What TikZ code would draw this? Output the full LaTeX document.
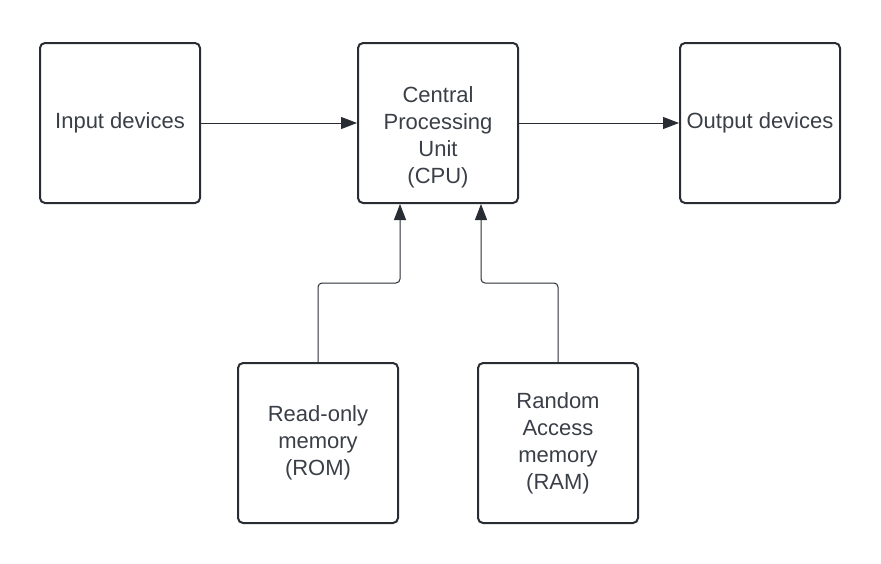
\documentclass[tikz,border=0pt]{standalone}
\usepackage{fontspec}
\setmainfont{Liberation Sans}
\usetikzlibrary{arrows.meta}
\definecolor{boxline}{HTML}{282C33}
\definecolor{boxtext}{HTML}{3A3F47}
\tikzset{unit/.style={draw=boxline,line width=2pt,rounded corners=5pt,minimum width=160pt,minimum height=160pt,inner sep=0pt,align=center,text=boxtext,font=\fontsize{22}{27}\selectfont},
link/.style={draw=boxline,line width=1pt,rounded corners=4pt,-{Triangle[length=16pt,width=12pt]}}}
\begin{document}
\begin{tikzpicture}[x=1pt,y=-1pt]
\useasboundingbox (0,0) rectangle (881,563);
\node[unit] (in) at (120,123) {Input devices};
\node[unit,label={[name=cputext,align=center,text=boxtext,font=\fontsize{22}{27}\selectfont,yshift=-14pt]center:Central\\Processing\\Unit\\(CPU)}] (cpu) at (438,123) {};
\node[unit] (out) at (760,123) {Output devices};
\node[unit] (rom) at (318,443) {Read-only\\memory\\(ROM)};
\node[unit] (ram) at (558,443) {Random\\Access\\memory\\(RAM)};
\draw[link] (in) -- (cpu);
\draw[link] (cpu) -- (out);
\draw[link] (rom.north) -- (318,283) -- (400,283) -- ([xshift=-38pt]cpu.south);
\draw[link] (ram.north) -- (558,283) -- (481,283) -- ([xshift=43pt]cpu.south);
\end{tikzpicture}
\end{document}
